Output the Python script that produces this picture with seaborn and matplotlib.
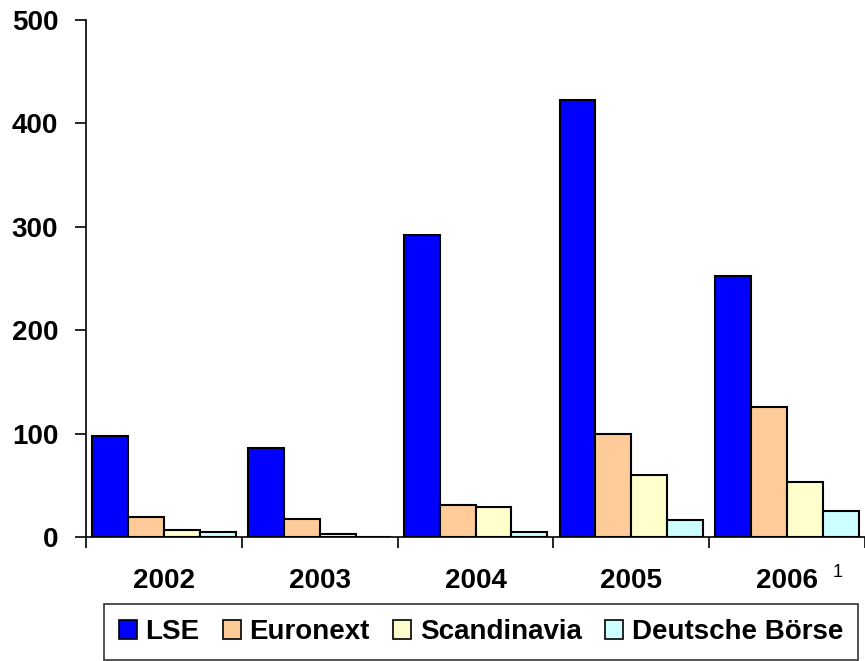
import matplotlib
matplotlib.use("Agg")
import matplotlib.pyplot as plt
import seaborn as sns
import pandas as pd
import numpy as np

years = ["2002", "2003", "2004", "2005", "2006"]
exchanges = ["LSE", "Euronext", "Scandinavia", "Deutsche Börse"]
lse = [98, 86, 292, 423, 252]
euronext = [19, 17, 31, 100, 126]
scandinavia = [7, 3, 29, 60, 53]
deutsche = [5, 0, 5, 16, 25]
colors = ["#0000FF", "#FFCC99", "#FFFFCC", "#CCFFFF"]
yticks = [0, 100, 200, 300, 400, 500]

rows = []
for name, vals in zip(exchanges, [lse, euronext, scandinavia, deutsche]):
    for y, v in zip(years, vals):
        rows.append({"year": y, "exchange": name, "value": v})
df = pd.DataFrame(rows)

sns.set_theme(style="white")
plt.rcParams["font.family"] = ["Liberation Sans", "DejaVu Sans"]
plt.rcParams["font.weight"] = "bold"
plt.rcParams["text.color"] = "black"
plt.rcParams["xtick.color"] = "black"
plt.rcParams["ytick.color"] = "black"

FS = 20

fig = plt.figure(figsize=(8.65, 6.61), dpi=100)
ax = fig.add_axes([86 / 865, 1 - 537 / 661, 1 - 86 / 865, (537 - 20) / 661])

sns.barplot(data=df, x="year", y="value", hue="exchange", order=years,
            hue_order=exchanges, palette=colors, width=0.92, gap=0,
            edgecolor="black", linewidth=1.5, saturation=1, ax=ax,
            errorbar=None)

ax.set_xlim(-0.5, 4.46)
ax.set_ylim(0, 500)
ax.set_xlabel("")
ax.set_ylabel("")

# group boundaries as major ticks, year labels centred on minor ticks
ax.set_xticks(np.arange(-0.5, 5.0, 1.0))
ax.set_xticklabels([])
ax.set_xticks(np.arange(len(years)), minor=True)
ax.set_xticklabels(years, minor=True, fontsize=FS, fontweight="bold",
                   color="black")
ax.tick_params(axis="x", which="major", direction="out", length=8, width=1.2,
               color="black", bottom=True)
ax.tick_params(axis="x", which="minor", length=0, pad=22)

ax.set_yticks(yticks)
ax.set_yticklabels([str(t) for t in yticks], fontsize=FS, fontweight="bold",
                   color="black")
ax.tick_params(axis="y", direction="out", length=8, width=1.2, color="black",
               left=True, pad=12)

for s in ["top", "right"]:
    ax.spines[s].set_visible(False)
for s in ["left", "bottom"]:
    ax.spines[s].set_color("black")
    ax.spines[s].set_linewidth(1.2)

# footnote marker on the last year
ax.annotate("1", xy=(4, 0), xycoords=("data", "axes fraction"),
            xytext=(33, -32), textcoords="offset points",
            fontsize=13, fontweight="normal", ha="left", va="bottom",
            color="black")

ax.legend_.remove()
handles = [plt.Rectangle((0, 0), 1, 1, facecolor=c, edgecolor="black", linewidth=1.2)
           for c in colors]
leg = fig.legend(handles, exchanges, loc="center", ncol=4,
                 bbox_to_anchor=(481 / 865, 1 - 632 / 661),
                 bbox_transform=fig.transFigure, frameon=True, fancybox=False,
                 edgecolor="black", handlelength=0.65,
                 handleheight=0.65, handletextpad=0.3, columnspacing=0.85,
                 borderpad=0.55, borderaxespad=0,
                 prop={"weight": "bold", "size": FS})
leg.get_frame().set_linewidth(1.2)
for t in leg.get_texts():
    t.set_color("black")

fig.savefig("out.png", dpi=100)
